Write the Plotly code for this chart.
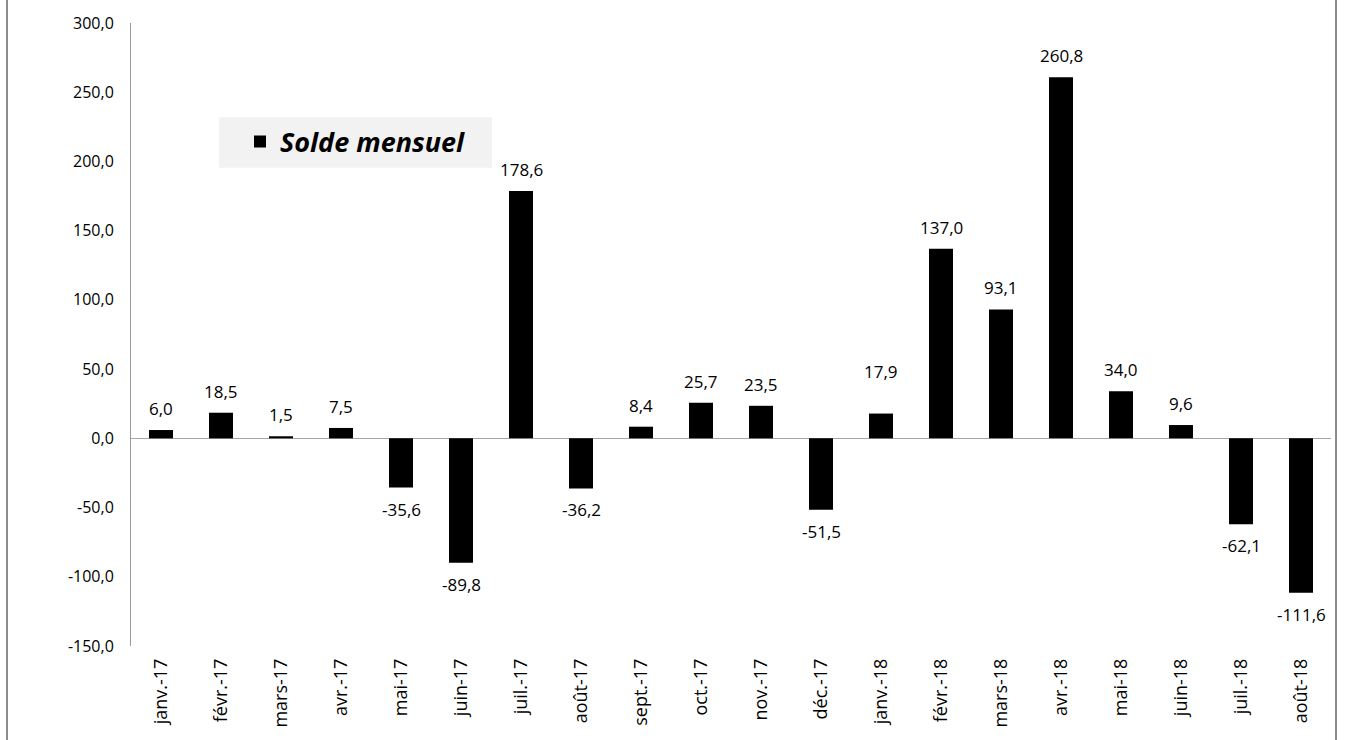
import plotly.graph_objects as go

categories = ["janv.-17", "févr.-17", "mars-17", "avr.-17", "mai-17", "juin-17", "juil.-17",
              "août-17", "sept.-17", "oct.-17", "nov.-17", "déc.-17", "janv.-18", "févr.-18",
              "mars-18", "avr.-18", "mai-18", "juin-18", "juil.-18", "août-18"]
values = [6.0, 18.5, 1.5, 7.5, -35.6, -89.8, 178.6, -36.2, 8.4, 25.7, 23.5, -51.5,
          17.9, 137.0, 93.1, 260.8, 34.0, 9.6, -62.1, -111.6]
series_name = "Solde mensuel"
y_ticks = [-150, -100, -50, 0, 50, 100, 150, 200, 250, 300]


def fr(v):
    return f"{v:.1f}".replace(".", ",")


FONT = "Open Sans, Noto Sans, sans-serif"
W, H = 1346, 740
L, R, T, B = 131, 15, 20, 92

fig = go.Figure()
fig.add_trace(go.Bar(
    x=categories, y=values, name=series_name,
    marker=dict(color="#000000", line=dict(width=0)),
    width=0.4, showlegend=True,
))

extra_shift = {"janv.-18": 21}
for c, v in zip(categories, values):
    s = 8 + extra_shift.get(c, 0)
    fig.add_annotation(x=c, y=v, text=fr(v), showarrow=False,
                       yanchor="bottom" if v >= 0 else "top",
                       yshift=s if v >= 0 else -s,
                       font=dict(family=FONT, size=17, color="#000000"))

# legend background
fig.add_shape(type="rect", xref="paper", yref="paper",
              x0=(219 - L) / (W - L - R), x1=(492 - L) / (W - L - R),
              y0=1 - (166 - T) / (H - T - B), y1=1 - (115 - T) / (H - T - B),
              fillcolor="#f2f2f2", line=dict(width=0), layer="below")
# outer frame side lines
for px in (7, 1336):
    xp = (px - L) / (W - L - R)
    fig.add_shape(type="line", xref="paper", yref="paper", x0=xp, x1=xp,
                  y0=-0.3, y1=1.2, line=dict(color="#8c8c8c", width=2))

fig.update_layout(
    width=W, height=H,
    margin=dict(l=L, r=R, t=T, b=B),
    paper_bgcolor="white", plot_bgcolor="white",
    font=dict(family=FONT, size=16, color="#000000"),
    legend=dict(x=(240 - L) / (W - L - R), y=1 - (140 - T) / (H - T - B),
                xanchor="left", yanchor="middle", bgcolor="rgba(0,0,0,0)",
                font=dict(family=FONT, size=27, weight="bold", style="italic")),
    bargap=0.6,
)
fig.update_xaxes(type="category", tickangle=-90, showgrid=False, showline=False,
                 ticks="", ticklabelstandoff=8, tickfont=dict(family=FONT, size=18))
fig.update_yaxes(range=[-150, 300], tickvals=y_ticks, ticktext=[fr(t) for t in y_ticks],
                 showgrid=False, showline=True, linecolor="#999999", linewidth=1,
                 zeroline=True, zerolinecolor="#a6a6a6", zerolinewidth=1,
                 ticks="", ticklabelstandoff=13, tickfont=dict(family=FONT, size=16))

fig.write_html("out.html", config={"displayModeBar": False},
               post_script="document.body.style.margin='0';document.body.style.overflow='hidden';")
